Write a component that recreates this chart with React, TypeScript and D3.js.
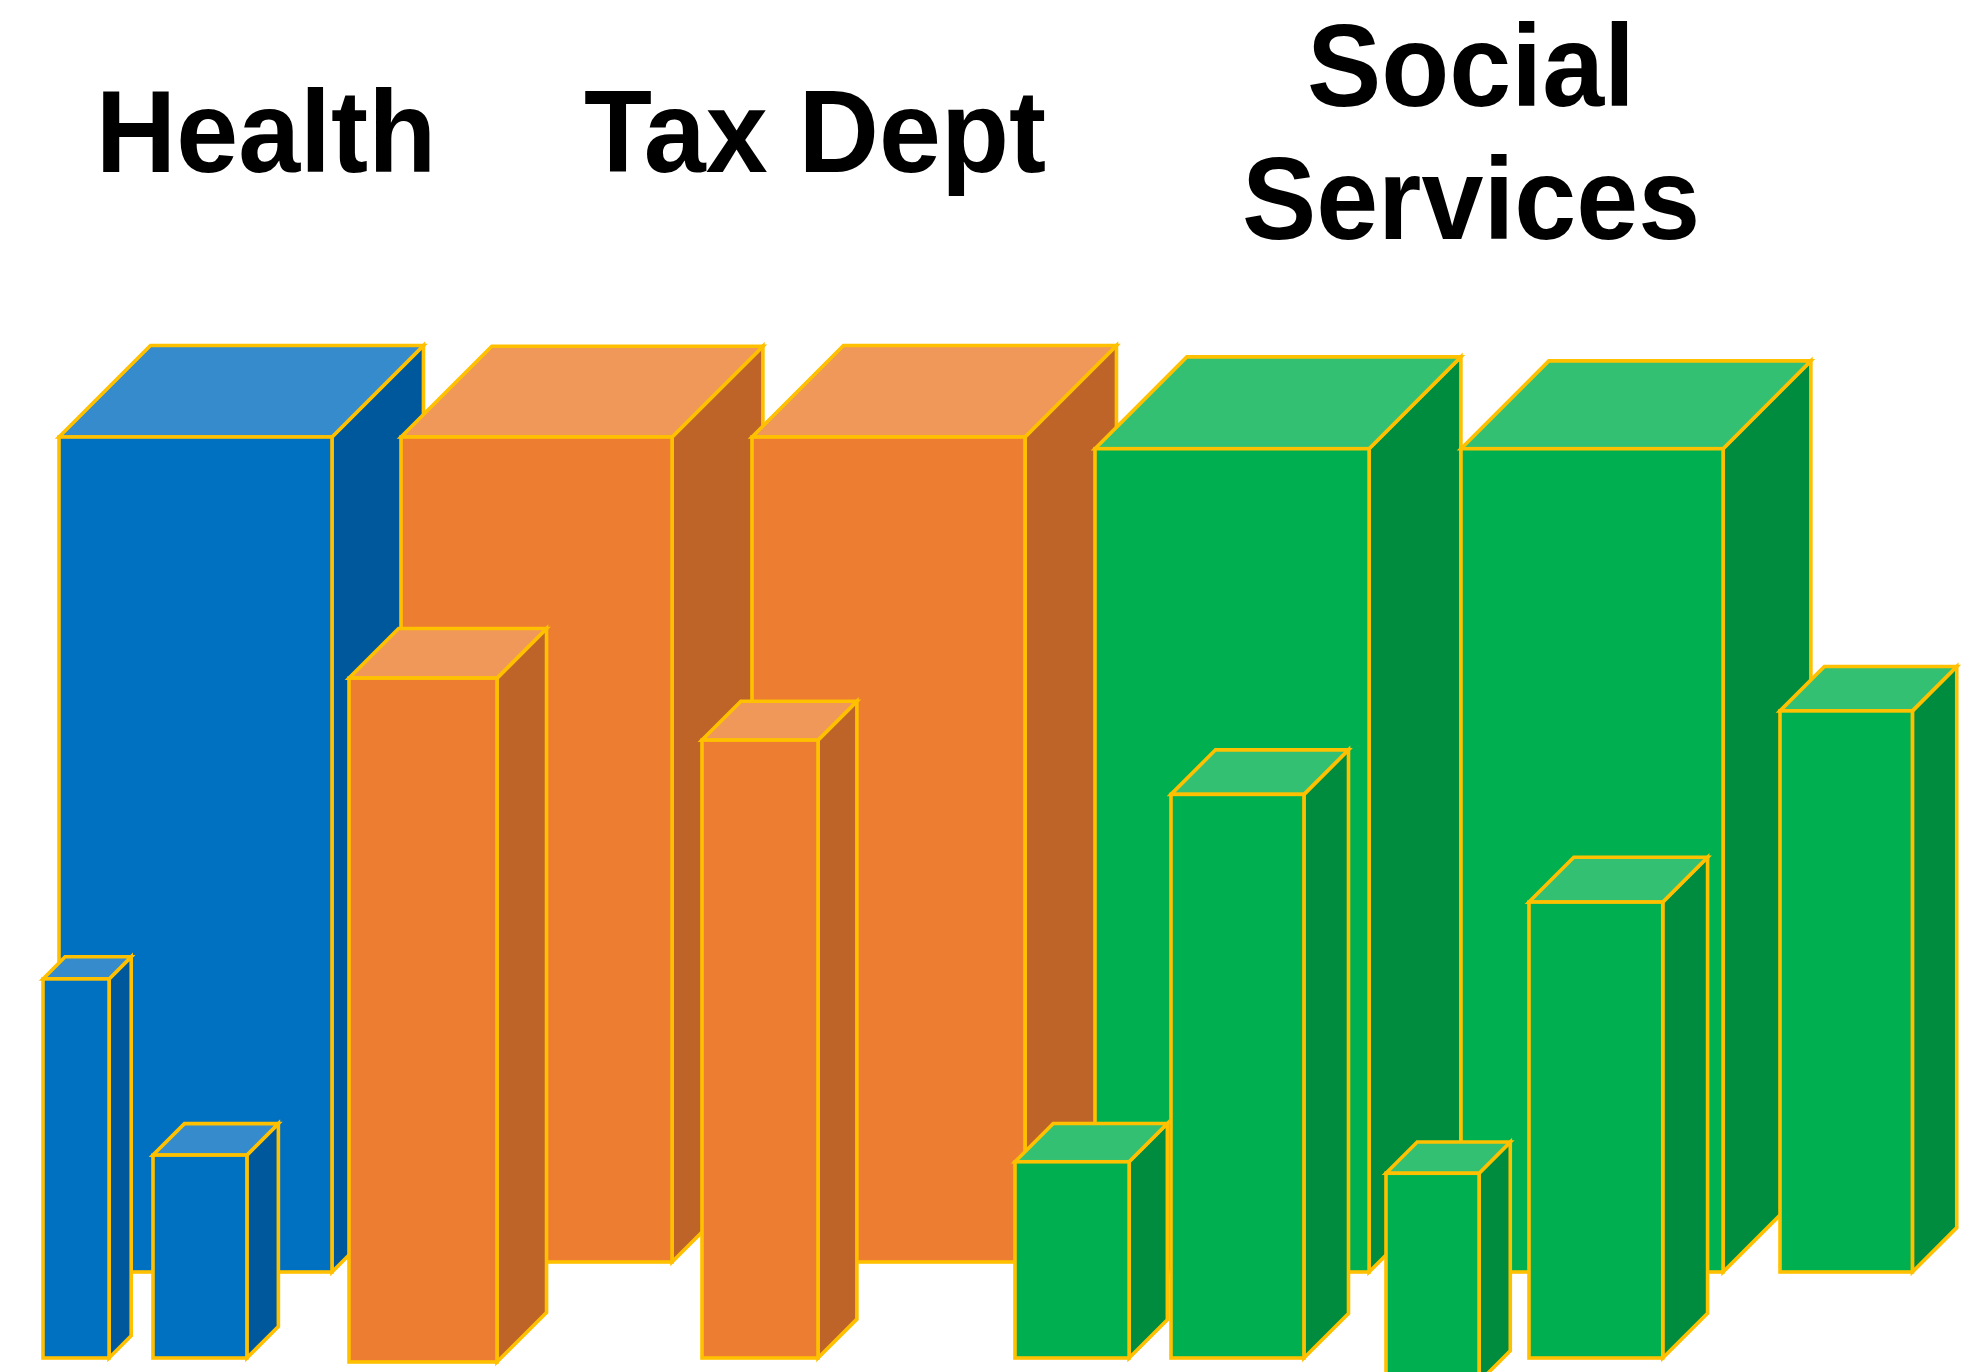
import React from "react";
import * as d3 from "d3";

// ---- data ----
const categories = ["Health", "Tax Dept", "Social Services"];
const categoryLines = [["Health"], ["Tax Dept"], ["Social", "Services"]];

// back row (tall bars)
const backGroup = [0, 1, 1, 2, 2];
const backValues = [100, 98.8, 98.8, 98.6, 98.6];
const backSizes = [100, 99.3, 100, 100.4, 96];

// front row (small bars)
const frontGroup = [0, 0, 1, 1, 2, 2, 2, 2, 2];
const frontValues = [45.4, 24.3, 81.9, 74.0, 23.5, 67.5, 25.0, 54.6, 67.2];
const frontSizes = [24.2, 34.4, 54.2, 42.5, 41.8, 48.7, 34.1, 49.0, 48.5];

// ---- layout (pixels) ----
const W = 1966;
const H = 1372;
const backX = [59, 401, 752, 1095, 1461];
const backBase = [1272, 1262, 1262, 1272, 1272];
const frontX = [43, 153, 349, 702, 1015, 1171, 1386, 1529, 1780];
const frontBase = [1358, 1358, 1362, 1358, 1358, 1358, 1382, 1358, 1272];
const titleX = [266, 815, 1471];
const titleBaseline = [172, 172, 106];
const titleLineGap = 133;
const depthRatio = 0.335;

const palette = [
  { front: "#0070C0", top: "#358BCB", side: "#00589C" },
  { front: "#ED7D31", top: "#F0975A", side: "#BE6428" },
  { front: "#00B050", top: "#33C073", side: "#008C3E" },
];
const edge = "#FFC000";

const yScale = d3.scaleLinear().domain([0, 100]).range([0, 835]);
const wScale = d3.scaleLinear().domain([0, 100]).range([0, 273]);

function poly(pts: [number, number][]) {
  const p = d3.path();
  pts.forEach(([x, y], i) => (i === 0 ? p.moveTo(x, y) : p.lineTo(x, y)));
  p.closePath();
  return p.toString();
}

function Cuboid({ x, base, value, size, group }: { x: number; base: number; value: number; size: number; group: number }) {
  const w = wScale(size);
  const h = yScale(value);
  const d = w * depthRatio;
  const top = base - h;
  const c = palette[group];
  const sw = 3.6;
  return (
    <g>
      <path
        d={poly([[x + w, top], [x + w + d, top - d], [x + w + d, base - d], [x + w, base]])}
        fill={c.side}
        stroke={edge}
        strokeWidth={sw}
        strokeLinejoin="miter"
      />
      <path
        d={poly([[x, top], [x + d, top - d], [x + w + d, top - d], [x + w, top]])}
        fill={c.top}
        stroke={edge}
        strokeWidth={sw}
        strokeLinejoin="miter"
      />
      <rect x={x} y={top} width={w} height={h} fill={c.front} stroke={edge} strokeWidth={sw} />
    </g>
  );
}

export default function App() {
  return (
    <div style={{ position: "fixed", left: 0, top: 0, width: W, height: H, background: "#fff" }}>
      <svg width={W} height={H} viewBox={`0 0 ${W} ${H}`} style={{ display: "block" }}>
        <rect width={W} height={H} fill="#fff" />
        {categories.map((cat, i) => (
          <text
            key={cat}
            transform={`translate(${titleX[i]},0) scale(0.96,1)`}
            x={0}
            y={titleBaseline[i]}
            textAnchor="middle"
            fontFamily="'Liberation Sans', Arial, Helvetica, sans-serif"
            fontWeight="bold"
            fontSize={116}
            fill="#000"
          >
            {categoryLines[i].map((line, j) => (
              <tspan key={j} x={0} dy={j === 0 ? 0 : titleLineGap}>
                {line}
              </tspan>
            ))}
          </text>
        ))}
        {backValues.map((v, i) => (
          <Cuboid key={"b" + i} x={backX[i]} base={backBase[i]} value={v} size={backSizes[i]} group={backGroup[i]} />
        ))}
        {frontValues.map((v, i) => (
          <Cuboid key={"f" + i} x={frontX[i]} base={frontBase[i]} value={v} size={frontSizes[i]} group={frontGroup[i]} />
        ))}
      </svg>
    </div>
  );
}
